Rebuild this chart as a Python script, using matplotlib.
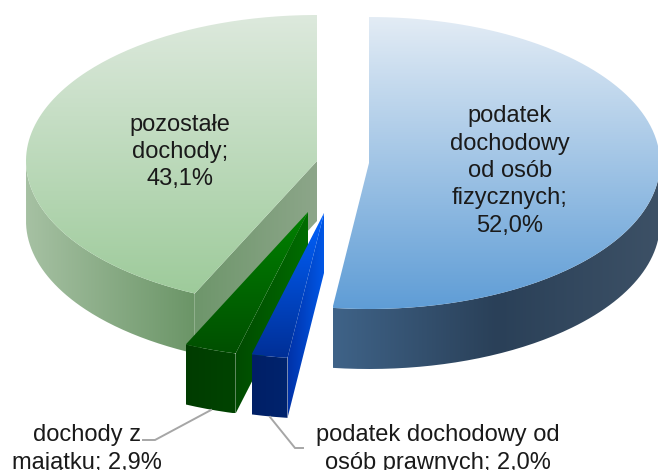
import numpy as np
import matplotlib
matplotlib.use('Agg')
import matplotlib.pyplot as plt
from matplotlib.colors import LinearSegmentedColormap
from matplotlib.path import Path
from matplotlib.patches import PathPatch

# clockwise from 12 o'clock
names = ['podatek\ndochodowy\nod osób\nfizycznych;\n', 'podatek dochodowy od\nosób prawnych; ',
         'dochody z\nmajątku; ', 'pozostałe\ndochody;\n']
values = [52.0, 2.0, 2.9, 43.1]

# pie geometry in image pixels (y down)
W, H = 658, 470
RX, RY, DEPTH = 291, 146, 60
centers = [(369, 163), (324, 213), (308, 212), (317, 161)]

top_colors = [['#E3ECF5', '#5F9DD6'], ['#0062FF', '#002F96'], ['#008200', '#004F00'], ['#DDE9DD', '#9ECB9B']]
outer_colors = [['#3F6388', '#2A4058', '#3D5166'], ['#001F66', '#00246E'], ['#003C00', '#004400'], ['#A6C1A3', '#6B9567']]
inner_colors = [None, ['#0032A8', '#0058E8'], ['#004A00', '#006E00'], ['#6E966B', '#8DA68A']]


def rim(center, t):
    t = np.radians(t)
    return center[0] + RX * np.sin(t), center[1] - RY * np.cos(t)


def gradient_fill(ax, x, y, stops, vertical=False):
    x0, x1, y0, y1 = min(x), max(x), min(y), max(y)
    cmap = LinearSegmentedColormap.from_list('g', stops)
    grad = np.linspace(0, 1, 256)
    grad = grad[:, None] if vertical else grad[None, :]
    im = ax.imshow(grad, cmap=cmap, extent=(x0, x1, y1, y0), origin='upper', aspect='auto', interpolation='bilinear')
    patch = PathPatch(Path(np.column_stack([x, y])), transform=ax.transData, facecolor='none', edgecolor='none')
    ax.add_patch(patch)
    im.set_clip_path(patch)


def draw_slice(ax, i, t0, t1):
    c = centers[i]
    # the front wall only exists for the part of the rim facing us (90..270 deg)
    a0, a1 = max(t0, 90), min(t1, 270)
    ts = np.linspace(a0, a1, 120)
    px, py = rim(c, ts)
    gradient_fill(ax, list(px) + list(px[::-1]), list(py) + list(py[::-1] + DEPTH), outer_colors[i])
    if inner_colors[i]:
        ex, ey = rim(c, t0)
        gradient_fill(ax, [c[0], ex, ex, c[0]], [c[1], ey, ey + DEPTH, c[1] + DEPTH], inner_colors[i])
    ts = np.linspace(t0, t1, 200)
    px, py = rim(c, ts)
    gradient_fill(ax, [c[0]] + list(px), [c[1]] + list(py), top_colors[i], vertical=True)


plt.rcParams['font.family'] = ['Liberation Sans', 'DejaVu Sans']
fig = plt.figure(figsize=(W / 100, H / 100), dpi=100)
ax = fig.add_axes([0, 0, 1, 1])

edges = np.concatenate([[0], np.cumsum(values)]) / sum(values) * 360
for i in [3, 2, 1, 0]:
    draw_slice(ax, i, edges[i], edges[i + 1])

# leader lines
ax.plot([143, 155, 211], [440, 440, 410], color='#A6A6A6', lw=1.4, solid_joinstyle='miter')
ax.plot([270, 295, 303], [417, 448, 448], color='#A6A6A6', lw=1.4, solid_joinstyle='miter')

label_pos = [(510, 171), (438, 449), (87, 449), (180, 152)]
for name, v, (x, y) in zip(names, values, label_pos):
    label = name + f'{v:.1f}%'.replace('.', ',')
    ax.text(x, y, label, ha='center', va='center', fontsize=17, color='#1A1A1A', linespacing=1.32)

ax.set_xlim(0, W)
ax.set_ylim(H, 0)
ax.axis('off')
fig.savefig('out.png', dpi=100)
